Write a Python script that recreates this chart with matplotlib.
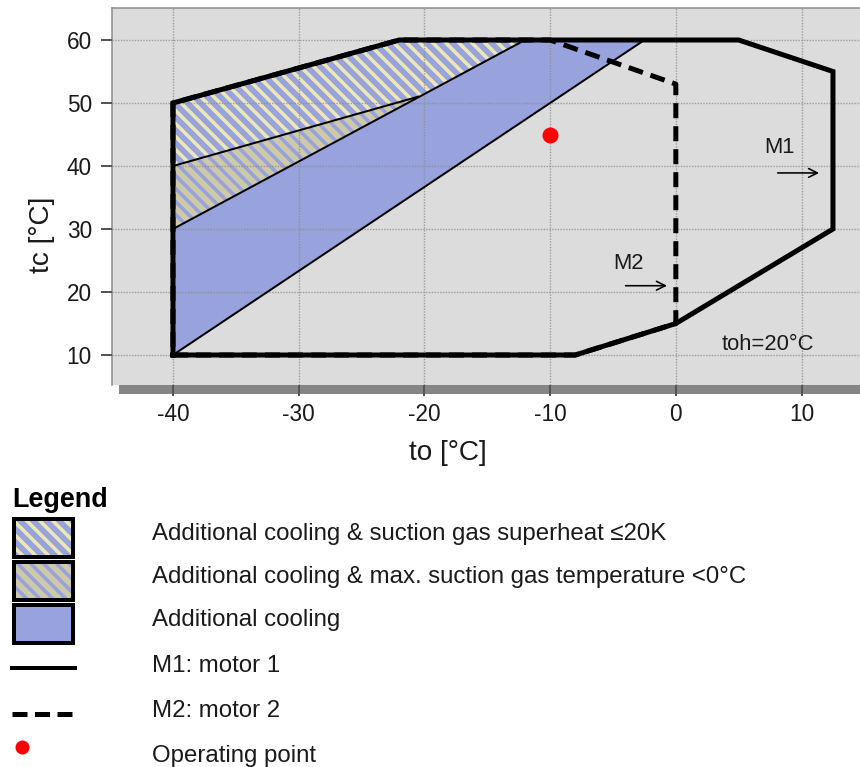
import matplotlib
matplotlib.use('Agg')
import matplotlib.pyplot as plt
from matplotlib.patches import Rectangle

# dpi 78 so that sizes in px convert simply
DPI = 78
PT = 72.0 / DPI  # px -> pt

plt.rcParams.update({
    'font.family': ['Liberation Sans', 'DejaVu Sans'],
    'hatch.linewidth': 3.6 * PT,
})
HATCH = '\\\\'

# operating envelope, motor 1 (solid)
m1_to = [-40, -8, 0, 12.5, 12.5, 5, -22, -40, -40]
m1_tc = [10, 10, 15, 30, 55, 60, 60, 50, 10]
# operating envelope, motor 2 (dashed)
m2_to = [-40, -8, 0, 0, -10, -22, -40, -40]
m2_tc = [10, 10, 15, 53, 60, 60, 50, 10]
# additional cooling band
cool_to = [-40, -40, -12, -2.5]
cool_tc = [10, 30, 60, 60]
# additional cooling & suction gas superheat <=20K
sh_to = [-40, -40, -22, -12, -20.5]
sh_tc = [40, 50, 60, 60, 51]
# additional cooling & max. suction gas temperature <0°C
st_to = [-40, -40, -20.5]
st_tc = [30, 40, 51]
# operating point
op_to, op_tc = -10, 45

xticks = [-40, -30, -20, -10, 0, 10]
yticks = [10, 20, 30, 40, 50, 60]

legend_labels = [
    'Additional cooling & suction gas superheat \u226420K',
    'Additional cooling & max. suction gas temperature <0°C',
    'Additional cooling',
    'M1: motor 1',
    'M2: motor 2',
    'Operating point',
]

BLUE = '#98A2DC'
YELLOW = '#EDE7B6'
KHAKI = '#CECAA8'
BG = '#DCDCDC'

fig = plt.figure(figsize=(860 / DPI, 767 / DPI), dpi=DPI)

# background/legend layer in pixel coordinates
lay = fig.add_axes([0, 0, 1, 1], zorder=0)
lay.set_xlim(0, 860)
lay.set_ylim(767, 0)
lay.axis('off')
lay.add_patch(Rectangle((119, 380), 760, 14, color='#858585', lw=0))

ax = fig.add_axes([112 / 860, 1 - 385 / 767, 748 / 860, 377 / 767], zorder=1)
ax.set_facecolor(BG)
ax.set_xlim(-44.85, 14.65)
ax.set_ylim(5.24, 65.08)

ax.fill(cool_to, cool_tc, facecolor=BLUE, edgecolor='none', lw=0, zorder=1)
ax.fill(sh_to, sh_tc, facecolor=BLUE, edgecolor=YELLOW, hatch=HATCH, lw=0, zorder=1)
ax.fill(st_to, st_tc, facecolor=KHAKI, edgecolor=BLUE, hatch=HATCH, lw=0, zorder=1)

# thin boundary lines of the cooling regions
ax.plot([cool_to[0], cool_to[3]], [cool_tc[0], cool_tc[3]], color='black', lw=2 * PT, zorder=3)
ax.plot([cool_to[1], cool_to[2]], [cool_tc[1], cool_tc[2]], color='black', lw=2 * PT, zorder=3)
ax.plot([st_to[1], st_to[2]], [st_tc[1], st_tc[2]], color='black', lw=2 * PT, zorder=3)

ax.plot(m1_to, m1_tc, color='black', lw=5 * PT, solid_joinstyle='miter', zorder=4)
ax.plot(m2_to, m2_tc, color='black', lw=5 * PT, dashes=(3, 1.6), zorder=4)

ax.plot(op_to, op_tc, 'o', color='#FF0000', ms=16 * PT, mec='none', zorder=5)

fs_ann = 22 * PT
ax.text(8.25, 42.9, 'M1', fontsize=fs_ann, ha='center', va='center', color='#1a1a1a', zorder=6)
ax.annotate('', xy=(11.4, 38.9), xytext=(8.1, 38.9),
            arrowprops=dict(arrowstyle='->', color='black', lw=1.6 * PT,
                            mutation_scale=22 * PT, shrinkA=0, shrinkB=0), zorder=6)
ax.text(-3.8, 24.6, 'M2', fontsize=fs_ann, ha='center', va='center', color='#1a1a1a', zorder=6)
ax.annotate('', xy=(-0.7, 21.0), xytext=(-4.0, 21.0),
            arrowprops=dict(arrowstyle='->', color='black', lw=1.6 * PT,
                            mutation_scale=22 * PT, shrinkA=0, shrinkB=0), zorder=6)
ax.text(7.35, 11.7, 'toh=20°C', fontsize=fs_ann, ha='center', va='center', color='#1a1a1a', zorder=6)

ax.set_xticks(xticks)
ax.set_yticks(yticks)
ax.set_xticklabels([str(t) for t in xticks])
ax.set_axisbelow(False)
ax.grid(True, color='#8c8c8c', ls=(0, (1, 1)), lw=1.4 * PT, alpha=0.8)
ax.tick_params(axis='both', labelsize=22.5 * PT, colors='#555555', labelcolor='#1a1a1a',
               length=11 * PT, width=2 * PT)
ax.tick_params(axis='x', pad=7 * PT)
ax.tick_params(axis='y', pad=9 * PT)
for s in ['right', 'bottom']:
    ax.spines[s].set_visible(False)
for s in ['left', 'top']:
    ax.spines[s].set_color('#8a8a8a')
    ax.spines[s].set_linewidth(1.5 * PT)

ax.set_xlabel('to [°C]', fontsize=28 * PT, color='#1a1a1a')
ax.xaxis.set_label_coords((448 - 112) / 748, (385 - 440) / 377)
ax.set_ylabel('tc [°C]', fontsize=28 * PT, color='#1a1a1a')
ax.yaxis.set_label_coords((55 - 112) / 748, (385 - 235) / 377)

# legend drawn in pixel space
lay.text(12, 507, 'Legend', fontsize=27 * PT, fontweight='bold', va='baseline', ha='left')
box_faces = [BLUE, KHAKI, BLUE]
box_hatch = [YELLOW, BLUE, None]
box_y = [517, 560, 603]
for fc, hc, y0 in zip(box_faces, box_hatch, box_y):
    if hc:
        lay.add_patch(Rectangle((14, y0 + 2), 59, 38, facecolor=fc, edgecolor=hc, hatch=HATCH, lw=0))
    else:
        lay.add_patch(Rectangle((14, y0 + 2), 59, 38, facecolor=fc, lw=0))
    lay.add_patch(Rectangle((14, y0 + 2), 59, 38, facecolor='none', edgecolor='black', lw=4 * PT))
lay.plot([12, 75], [668, 668], color='black', lw=4 * PT)
lay.plot([12, 75], [714, 714], color='black', lw=5 * PT, dashes=(3, 1.5))
lay.plot([22], [747], 'o', color='#FF0000', ms=14 * PT, mec='none')

baselines = [540, 583, 626, 672, 717, 762]
for lbl, yb in zip(legend_labels, baselines):
    lay.text(152, yb, lbl, fontsize=24 * PT, va='baseline', ha='left', color='#1a1a1a')

fig.savefig('out.png', dpi=DPI)
